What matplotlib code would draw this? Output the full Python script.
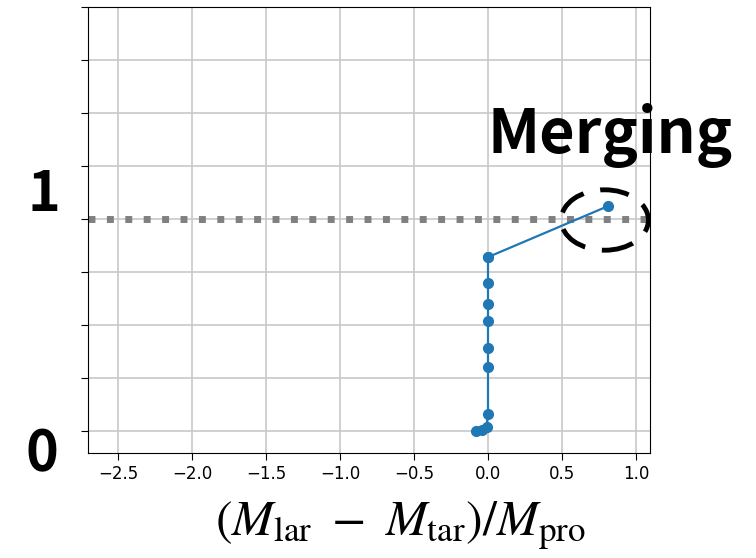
import matplotlib.pyplot as plt
from matplotlib.patches import Ellipse

# trajectory (bottom -> top)
x_vals = [-0.08, -0.04, -0.01, 0.0, 0.0, 0.0, 0.0, 0.0, 0.0, 0.0, 0.0, 0.81]
y_vals = [0.0, 0.005, 0.02, 0.08, 0.30, 0.39, 0.52, 0.60, 0.70, 0.82, 0.82, 1.06]
x_ticks = [-2.5, -2.0, -1.5, -1.0, -0.5, 0.0, 0.5, 1.0]
y_ticks = [0, 0.25, 0.5, 0.75, 1.0, 1.25, 1.5, 1.75, 2.0]

fig = plt.figure(figsize=(7.56, 5.58), dpi=100)
ax = fig.add_axes([0.1164, 0.1882, 0.7434, 0.7993])

ax.plot(x_vals, y_vals, '-o', color='#1f77b4', lw=1.6, ms=7, zorder=3)
ax.axhline(1.0, color='grey', ls=':', lw=5, zorder=2)

ell = Ellipse((0.79, 0.995), 0.59, 0.285, fill=False, ec='black', lw=3.5,
              ls=(0, (6, 3.5)), clip_on=False, zorder=4)
ax.add_patch(ell)

ax.set_xlim(-2.706, 1.096)
ax.set_ylim(-0.104, 2.0)
ax.set_xticks(x_ticks)
ax.set_yticks(y_ticks)
ax.set_yticklabels([])
ax.tick_params(axis='x', labelsize=12)
ax.tick_params(length=5)
ax.grid(True, color='#c8c8c8', lw=1.2)

jp = ['Noto Sans CJK JP', 'DejaVu Sans']
fig.text(0.058, 0.651, '1', fontsize=40, fontweight='bold', family=jp,
         ha='center', va='center')
fig.text(0.055, 0.185, '0', fontsize=40, fontweight='bold', family=jp,
         ha='center', va='center')
fig.text(0.807, 0.757, 'Merging', fontsize=44, fontweight='bold', family=jp,
         ha='center', va='center')

plt.rcParams['mathtext.fontset'] = 'stix'
fig.text(0.53, 0.058, r'$(M_{\rm lar}\ -\ M_{\rm tar})/M_{\rm pro}$', fontsize=36,
         ha='center', va='center')

fig.savefig('out.png', dpi=100)
